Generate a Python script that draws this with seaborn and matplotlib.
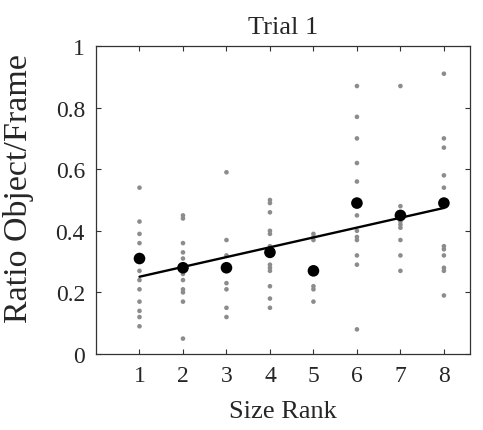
import numpy as np
import pandas as pd
import matplotlib
matplotlib.use("Agg")
import matplotlib.pyplot as plt
import seaborn as sns

# --- data ---
ranks = [1, 2, 3, 4, 5, 6, 7, 8]
rank1 = [0.54, 0.43, 0.39, 0.36, 0.27, 0.24, 0.21, 0.17, 0.14, 0.12, 0.09]
rank2 = [0.45, 0.44, 0.36, 0.33, 0.31, 0.27, 0.26, 0.24, 0.21, 0.20, 0.17, 0.05]
rank3 = [0.59, 0.37, 0.32, 0.23, 0.21, 0.15, 0.12]
rank4 = [0.50, 0.49, 0.46, 0.40, 0.39, 0.35, 0.34, 0.32, 0.29, 0.28, 0.27, 0.22, 0.18, 0.15]
rank5 = [0.39, 0.38, 0.37, 0.22, 0.21, 0.17]
rank6 = [0.87, 0.77, 0.70, 0.62, 0.56, 0.45, 0.40, 0.38, 0.37, 0.32, 0.29, 0.08]
rank7 = [0.87, 0.48, 0.44, 0.43, 0.42, 0.41, 0.37, 0.32, 0.27]
rank8 = [0.91, 0.70, 0.67, 0.58, 0.54, 0.35, 0.34, 0.32, 0.28, 0.27, 0.19]
means = [0.31, 0.28, 0.28, 0.33, 0.27, 0.49, 0.45, 0.49]
x_tick_labels = ["1", "2", "3", "4", "5", "6", "7", "8"]
y_ticks = [0, 0.2, 0.4, 0.6, 0.8, 1]
y_tick_labels = ["0", "0.2", "0.4", "0.6", "0.8", "1"]

groups = [rank1, rank2, rank3, rank4, rank5, rank6, rank7, rank8]
raw = pd.DataFrame({
    "rank": np.concatenate([[r] * len(g) for r, g in zip(ranks, groups)]),
    "ratio": np.concatenate(groups),
})
mean_df = pd.DataFrame({"rank": ranks, "ratio": means})

sns.set_style("white")
plt.rcParams["font.family"] = ["Liberation Serif", "DejaVu Serif"]
plt.rcParams["xtick.direction"] = "in"
plt.rcParams["ytick.direction"] = "in"

fig = plt.figure(figsize=(4.83, 4.31), dpi=100)
ax = fig.add_axes([96 / 483, 1 - 355 / 431, (470 - 96) / 483, (355 - 47) / 431])

sns.scatterplot(data=raw, x="rank", y="ratio", color="#8c8c8c", s=11,
                edgecolor="none", ax=ax, zorder=2)
sns.regplot(data=mean_df, x="rank", y="ratio", ci=None, scatter=False,
            color="black", line_kws={"linewidth": 1.7, "zorder": 3}, ax=ax)
sns.scatterplot(data=mean_df, x="rank", y="ratio", color="black", s=70,
                edgecolor="none", ax=ax, zorder=4)

ax.set_xlim(0, 8.6)
ax.set_ylim(0, 1)
ax.set_xticks(ranks)
ax.set_xticklabels(x_tick_labels)
ax.set_yticks(y_ticks)
ax.set_yticklabels(y_tick_labels)
ax.tick_params(axis="both", which="both", direction="in", length=3.5, width=0.8,
               color="#333333", labelsize=17, pad=8,
               top=True, right=True, bottom=True, left=True)
for sp in ax.spines.values():
    sp.set_visible(True)
    sp.set_color("#333333")
    sp.set_linewidth(0.9)

ax.set_title("Trial 1", fontsize=19, pad=9)
ax.set_xlabel("Size Rank", fontsize=19, labelpad=10)
ax.set_ylabel("Ratio Object/Frame", fontsize=24.5, labelpad=12)
ax.yaxis.set_label_coords(-0.165, 0.54)

fig.savefig("out.png", dpi=100)
